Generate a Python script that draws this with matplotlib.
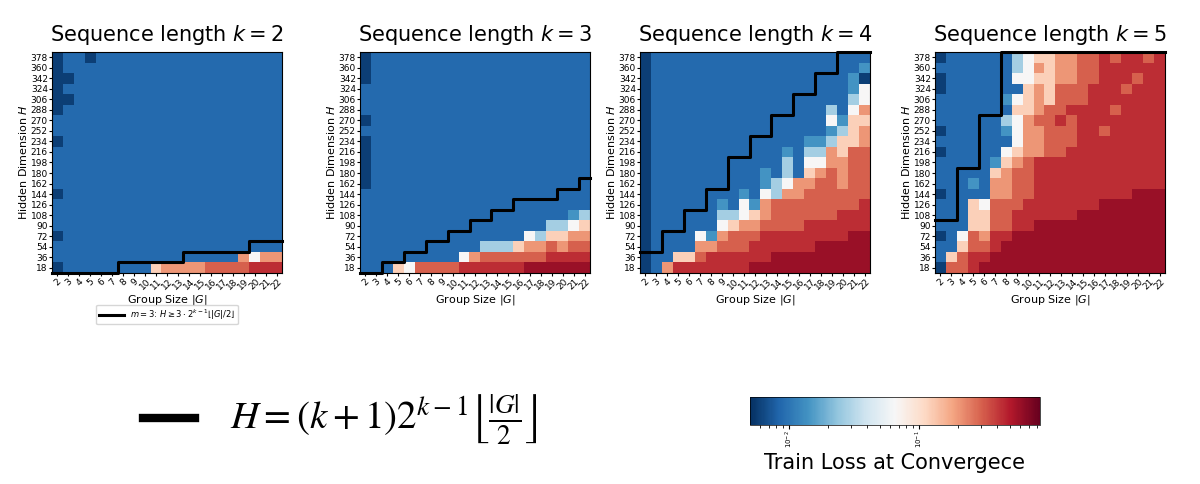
import numpy as np
import matplotlib
matplotlib.use("Agg")
import matplotlib.pyplot as plt
from matplotlib.colors import LogNorm
from matplotlib.cm import ScalarMappable

plt.rcParams["mathtext.fontset"] = "dejavusans"

group_sizes = list(range(2, 23))
hidden_dims = list(range(18, 379, 18))
seq_lengths = [2, 3, 4, 5]

# colour level (0 = darkest blue ... 9 = darkest red) -> position on the log colour scale
LEVEL_POS = [0.03, 0.11, 0.2, 0.33, 0.5, 0.62, 0.72, 0.8, 0.87, 0.93]
LOSS_MIN, LOSS_MAX = 10 ** -2.3, 10 ** -0.07

# rows from H=378 (top) down to H=18, columns |G| = 2..22
grid_k2 = [
    "011011111111111111111",
    "011111111111111111111",
    "001111111111111111111",
    "011111111111111111111",
    "001111111111111111111",
    "011111111111111111111",
    "111111111111111111111",
    "111111111111111111111",
    "011111111111111111111",
    "111111111111111111111",
    "111111111111111111111",
    "111111111111111111111",
    "111111111111111111111",
    "011111111111111111111",
    "111111111111111111111",
    "111111111111111111111",
    "111111111111111111111",
    "011111111111111111111",
    "111111111111111111111",
    "111111111111111116466",
    "011111111566667777888",
]
grid_k3 = [
    "011111111111111111111",
    "011111111111111111111",
    "011111111111111111111",
    "111111111111111111111",
    "111111111111111111111",
    "111111111111111111111",
    "011111111111111111111",
    "111111111111111111111",
    "011111111111111111111",
    "011111111111111111111",
    "011111111111111111111",
    "011111111111111111111",
    "011111111111111111111",
    "111111111111111111111",
    "111111111111111111111",
    "111111111111111111123",
    "111111111111111113345",
    "111111111111111435566",
    "111111111113335667677",
    "111111111467777778888",
    "111547777888888999999",
]
grid_k4 = [
    "011111111111111111111",
    "011111111111111111112",
    "011111111111111111120",
    "011111111111111111124",
    "011111111111111111134",
    "011111111111111113146",
    "011111111111111114255",
    "011111111111111112356",
    "011111111111111223556",
    "011111111111121336577",
    "011111111111131446677",
    "011111111112131567677",
    "011111111112346677677",
    "011111111214366777777",
    "011111121426777777778",
    "011111133456777777888",
    "011111145667777888888",
    "011114267778888888899",
    "011116677788888899999",
    "011557888888999999999",
    "016888888899999999999",
]
grid_k5 = [
    "011111134556677878878",
    "111111134656677888888",
    "011111144556677888788",
    "011111115657778887888",
    "111111245657778888888",
    "111111155677888878888",
    "111111346778788888888",
    "011111246677788788888",
    "111111146677788888888",
    "011111456677888888888",
    "111112567888888888888",
    "111115677888888888888",
    "111216677888888888888",
    "011116677888888888999",
    "111547778888888999999",
    "111557788888899999999",
    "111557788999999999999",
    "014768899999999999999",
    "115778999999999999999",
    "157889999999999999999",
    "077899999999999999999",
]
grids = [grid_k2, grid_k3, grid_k4, grid_k5]

panel_left = [52, 360, 640, 935]
cmap = plt.get_cmap("RdBu_r")
norm = LogNorm(vmin=LOSS_MIN, vmax=LOSS_MAX)


def grid_to_loss(rows):
    pos = np.array([[LEVEL_POS[int(c)] for c in r] for r in rows[::-1]])
    return 10 ** (np.log10(LOSS_MIN) + pos * (np.log10(LOSS_MAX) - np.log10(LOSS_MIN)))


fig = plt.figure(figsize=(12, 4.84), dpi=100)
W, H = 1200, 484

for i, (k, rows) in enumerate(zip(seq_lengths, grids)):
    ax = fig.add_axes([panel_left[i] / W, 1 - 273 / H, 230 / W, 221 / H])
    ax.imshow(grid_to_loss(rows), cmap=cmap, norm=norm, origin="lower", aspect="auto")

    # boundary H = (k+1) 2^(k-1) floor(|G|/2)
    xs, ys = [], []
    for j, g in enumerate(group_sizes):
        thr = (k + 1) * 2 ** (k - 1) * (g // 2)
        y = min(max(int(np.ceil(thr / 18)) - 1, 0), len(hidden_dims)) - 0.5
        xs += [j - 0.5, j + 0.5]
        ys += [y, y]
    ax.plot(xs, ys, color="black", lw=2.2, clip_on=False,
            label=r"$m=3$: $H \geq 3\cdot 2^{k-1}\lfloor|G|/2\rfloor$")

    ax.set_xlim(-0.5, 20.5)
    ax.set_ylim(-0.5, 20.5)
    ax.set_xticks(range(len(group_sizes)))
    ax.set_xticklabels(group_sizes, rotation=45, fontsize=6.5)
    ax.set_yticks(range(len(hidden_dims)))
    ax.set_yticklabels(hidden_dims, fontsize=6.5)
    ax.tick_params(length=2, pad=1)
    ax.set_xlabel(r"Group Size $|G|$", fontsize=8, labelpad=1)
    ax.set_ylabel(r"Hidden Dimension $H$", fontsize=8, labelpad=1)
    ax.set_title(rf"Sequence length $k={k}$", fontsize=15, pad=8)
    if i == 0:
        ax.legend(loc="upper center", bbox_to_anchor=(0.5, -0.125), fontsize=6,
                  handlelength=3, frameon=True, borderpad=0.3)

# formula legend at the bottom
fig.add_artist(plt.Line2D([143 / W, 195 / W], [1 - 418 / H] * 2, color="black", lw=6))
fig.text(230 / W, 1 - 420 / H,
         r"$H = (k+1)2^{k-1}\left\lfloor\frac{|G|}{2}\right\rfloor$",
         fontsize=28, va="center", ha="left", math_fontfamily="stix")

# colorbar
cax = fig.add_axes([750 / W, 1 - 425 / H, 290 / W, 28 / H])
cb = fig.colorbar(ScalarMappable(norm=norm, cmap=cmap), cax=cax, orientation="horizontal")
cb.set_ticks([1e-2, 1e-1])
cb.ax.tick_params(labelsize=5, labelrotation=90, length=3, pad=1)
cb.ax.tick_params(which="minor", length=2)
cb.outline.set_linewidth(0.5)
fig.text(895 / W, 1 - 463 / H, "Train Loss at Convergece", fontsize=15, ha="center", va="center")

fig.savefig("out.png", dpi=100)
